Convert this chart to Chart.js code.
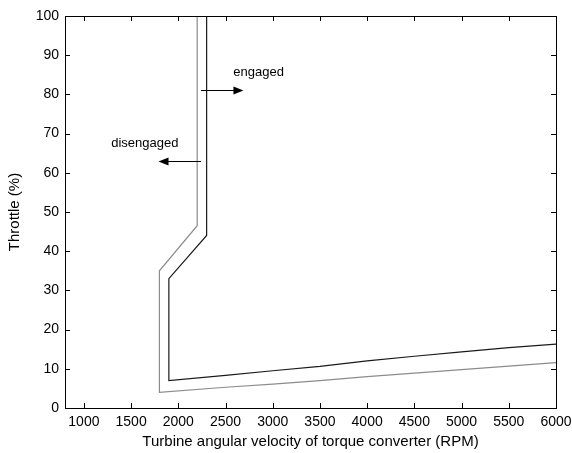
<!DOCTYPE html>
<html>
<head>
<meta charset="utf-8">
<script src="https://cdn.jsdelivr.net/npm/chart.js@4.4.1/dist/chart.umd.min.js"></script>
<style>
  html, body { margin: 0; padding: 0; background: #fff; }
  #wrap { width: 572px; height: 453px; }
</style>
</head>
<body>
<div id="wrap"><canvas id="grafico"></canvas></div>
<script>
/* -----------------------------
   DATOS
----------------------------- */
const engagedRpm      = [2300, 2300, 1900, 1900, 2500, 3000, 3500, 4000, 4500, 5000, 5500, 6000];
const engagedThrottle = [100, 44, 33, 7, 8.3, 9.5, 10.6, 12, 13.2, 14.3, 15.4, 16.3];

const disengagedRpm      = [2200, 2200, 1800, 1800, 2500, 3000, 3500, 4000, 4500, 5000, 5500, 6000];
const disengagedThrottle = [100, 46.5, 35, 4, 5.3, 6.1, 7, 8, 8.9, 9.8, 10.7, 11.6];

const xTicks = [1000, 1500, 2000, 2500, 3000, 3500, 4000, 4500, 5000, 5500, 6000];
const yTicks = [0, 10, 20, 30, 40, 50, 60, 70, 80, 90, 100];

// etiquetas: [texto, rpm, throttle]
const labelEngaged    = ["engaged", 2850, 85.5];
const labelDisengaged = ["disengaged", 1645, 67.5];
// flechas: [rpm desde, rpm hasta, throttle]
const arrowEngaged    = [2240, 2690, 81];
const arrowDisengaged = [2240, 1790, 63];

const FUENTE = "'Liberation Sans', Arial, sans-serif";

function toPoints(xs, ys) {
    return xs.map((x, i) => ({ x: x, y: ys[i] }));
}

/* -----------------------------
   PLUGIN: marco, ticks hacia dentro, anotaciones
----------------------------- */
const marcoPlugin = {
    id: "marco",
    afterDatasetsDraw(chart) {
        const ctx = chart.ctx;
        const a = chart.chartArea;
        const sx = chart.scales.x;
        const sy = chart.scales.y;
        const len = 5;

        ctx.save();
        ctx.strokeStyle = "#000";
        ctx.lineWidth = 1;
        ctx.strokeRect(a.left + 0.5, a.top + 0.5, a.right - a.left, a.bottom - a.top);

        ctx.beginPath();
        xTicks.forEach(v => {
            const px = Math.round(sx.getPixelForValue(v)) + 0.5;
            ctx.moveTo(px, a.bottom); ctx.lineTo(px, a.bottom - len);
            ctx.moveTo(px, a.top); ctx.lineTo(px, a.top + len);
        });
        yTicks.forEach(v => {
            const py = Math.round(sy.getPixelForValue(v)) + 0.5;
            ctx.moveTo(a.left, py); ctx.lineTo(a.left + len, py);
            ctx.moveTo(a.right, py); ctx.lineTo(a.right - len, py);
        });
        ctx.stroke();

        // textos
        ctx.fillStyle = "#000";
        ctx.font = "13px " + FUENTE;
        ctx.textAlign = "center";
        ctx.textBaseline = "middle";
        [labelEngaged, labelDisengaged].forEach(l => {
            ctx.fillText(l[0], sx.getPixelForValue(l[1]), sy.getPixelForValue(l[2]));
        });

        // flechas
        [arrowEngaged, arrowDisengaged].forEach(f => {
            const x0 = sx.getPixelForValue(f[0]);
            const x1 = sx.getPixelForValue(f[1]);
            const y = Math.round(sy.getPixelForValue(f[2])) + 0.5;
            const dir = x1 > x0 ? 1 : -1;
            ctx.beginPath();
            ctx.moveTo(x0, y);
            ctx.lineTo(x1 - dir * 8, y);
            ctx.stroke();
            ctx.beginPath();
            ctx.moveTo(x1, y);
            ctx.lineTo(x1 - dir * 10, y - 4);
            ctx.lineTo(x1 - dir * 10, y + 4);
            ctx.closePath();
            ctx.fill();
        });
        ctx.restore();
    }
};

/* -----------------------------
   GRAFICO
----------------------------- */
new Chart(document.getElementById("grafico"), {
    type: "scatter",
    data: {
        datasets: [
            {
                label: "engaged",
                data: toPoints(engagedRpm, engagedThrottle),
                showLine: true,
                borderColor: "#1a1a1a",
                borderWidth: 1.2,
                pointRadius: 0,
                tension: 0
            },
            {
                label: "disengaged",
                data: toPoints(disengagedRpm, disengagedThrottle),
                showLine: true,
                borderColor: "#8c8c8c",
                borderWidth: 1.2,
                pointRadius: 0,
                tension: 0
            }
        ]
    },
    options: {
        responsive: true,
        maintainAspectRatio: false,
        animation: false,
        layout: { padding: { top: 16, right: 16, left: 6, bottom: 0 } },
        plugins: {
            legend: { display: false },
            tooltip: { enabled: false }
        },
        scales: {
            x: {
                type: "linear",
                min: 800,
                max: 6000,
                afterBuildTicks: (s) => { s.ticks = xTicks.map(v => ({ value: v })); },
                afterFit: (s) => { s.height = 45; s.paddingLeft = 0; s.paddingRight = 0; },
                grid: { display: false, drawTicks: false },
                border: { display: false },
                ticks: {
                    color: "#000",
                    font: { family: FUENTE, size: 14 },
                    padding: 6,
                    maxRotation: 0,
                    autoSkip: false,
                    callback: (v) => String(v)
                },
                title: {
                    display: true,
                    text: "Turbine angular velocity of torque converter (RPM)",
                    color: "#000",
                    font: { family: FUENTE, size: 15 },
                    padding: { top: 2, bottom: 2 }
                }
            },
            y: {
                min: 0,
                max: 100,
                afterBuildTicks: (s) => { s.ticks = yTicks.map(v => ({ value: v })); },
                afterFit: (s) => { s.width = 59; s.paddingTop = 0; s.paddingBottom = 0; },
                grid: { display: false, drawTicks: false },
                border: { display: false },
                ticks: {
                    color: "#000",
                    font: { family: FUENTE, size: 14 },
                    padding: 6,
                    callback: (v) => String(v)
                },
                title: {
                    display: true,
                    text: "Throttle (%)",
                    color: "#000",
                    font: { family: FUENTE, size: 15 },
                    padding: { top: 0, bottom: 3 }
                }
            }
        }
    },
    plugins: [marcoPlugin]
});
</script>
</body>
</html>
